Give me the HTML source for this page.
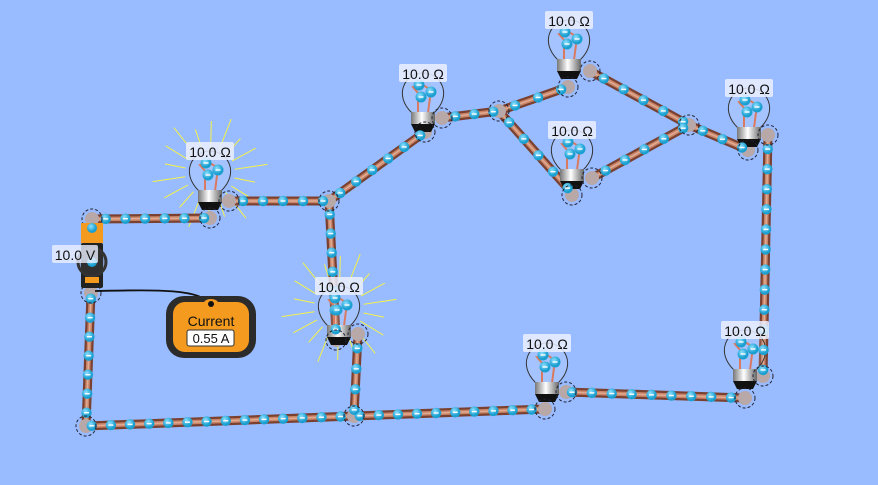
<!DOCTYPE html>
<html><head><meta charset="utf-8"><style>
html,body{margin:0;padding:0;background:#99bbff;width:878px;height:485px;overflow:hidden}
svg{display:block}
text{font-family:"Liberation Sans",sans-serif}
</style></head><body>
<svg id="s" width="878" height="485" xmlns="http://www.w3.org/2000/svg">
<defs>
<linearGradient id="base" x1="0" x2="1"><stop offset="0" stop-color="#777"/><stop offset="0.45" stop-color="#fff"/><stop offset="1" stop-color="#666"/></linearGradient>
<radialGradient id="el" cx="0.4" cy="0.35"><stop offset="0" stop-color="#8fe0ff"/><stop offset="1" stop-color="#1a9fd0"/></radialGradient>
</defs>
<g id="rays"></g>
<g id="wires"></g>
<g id="bulbs"></g>
<g id="els"></g>
<g id="top"></g>
</svg>
<script>
const NS="http://www.w3.org/2000/svg";
function el(p,t,a,txt){const e=document.createElementNS(NS,t);for(const k in a)e.setAttribute(k,a[k]);if(txt)e.textContent=txt;document.getElementById(p).appendChild(e);return e;}
const wires=[
[[92,219],[210,218]],[[229,201],[329,201]],[[329,201],[425,132]],[[442,118],[499,111]],
[[499,111],[568,87]],[[590,71],[689,125]],[[499,111],[572,193]],[[592,178],[689,125]],
[[689,125],[748,150]],[[768,135],[763,376]],[[745,398],[566,392]],[[545,409],[354,416]],
[[329,201],[336,335]],[[358,334],[354,416]],[[354,416],[86,426]],[[86,426],[91,293]]
];
wires.forEach(w=>{
 const d=`M${w[0][0]},${w[0][1]}L${w[1][0]},${w[1][1]}`;
 el("wires","path",{d,stroke:"#7a4030",'stroke-width':9,'stroke-linecap':'round'});
 el("wires","path",{d,stroke:"#c98468",'stroke-width':4.5});
 el("wires","path",{d,stroke:"#e0ab92",'stroke-width':1.5});
 const dx=w[1][0]-w[0][0],dy=w[1][1]-w[0][1],L=Math.hypot(dx,dy),n=Math.floor(L/19);
 for(let i=1;i<=n;i++){const t=(i-0.3)/n;const x=w[0][0]+dx*t,y=w[0][1]+dy*t;
  el("els","circle",{cx:x,cy:y,r:5.2,fill:"url(#el)"});
  el("els","rect",{x:x-2.5,y:y-0.7,width:5,height:1.4,fill:"#fff"});}
});
[[92,219],[210,218],[229,201],[329,201],[425,132],[442,118],[499,111],[568,87],[590,71],[689,125],[572,195],[592,178],[748,150],[768,135],[763,376],[745,398],[566,392],[545,409],[354,416],[336,340],[358,334],[86,426],[91,293]].forEach(p=>{
 el("wires","circle",{cx:p[0],cy:p[1],r:7,fill:"#b8a8a8"});
 el("top","circle",{cx:p[0],cy:p[1],r:10,fill:"none",stroke:"#223",'stroke-width':1,'stroke-dasharray':'3,2'});
});
const bulbs=[[210,173,1],[423,95,0],[569,42,0],[572,152,0],[749,110,0],[745,352,0],[547,365,0],[339,308,1]];
bulbs.forEach(b=>{const [x,y,g]=b;
 if(g){for(let i=0;i<18;i++){const a=i*Math.PI/9+0.2;el("rays","line",{x1:x+Math.cos(a)*25,y1:y+Math.sin(a)*25,x2:x+Math.cos(a)*(46+(i%3)*6),y2:y+Math.sin(a)*(46+(i%3)*6),stroke:"#f3f34a",'stroke-width':1});}}
 el("bulbs","path",{d:`M${x-11},${y+18} C${x-30},${y} ${x-18},${y-22} ${x},${y-22} C${x+18},${y-22} ${x+30},${y} ${x+11},${y+18}`,fill:"rgba(255,255,255,0.12)",stroke:"#333",'stroke-width':1});
 el("bulbs","path",{d:`M${x-5},${y+18}V${y-2}L${x-10},${y-8}L${x},${y-10}L${x+8},${y-5}L${x+5},${y+18}`,fill:"none",stroke:"#d97a60",'stroke-width':2});
 el("bulbs","rect",{x:x-12,y:y+17,width:24,height:12,fill:"url(#base)"});
 el("bulbs","path",{d:`M${x-12},${y+29}h24l-4,8h-16z`,fill:"#111"});
 [[x-4,y-10],[x-2,y+2],[x+8,y-3]].forEach(c=>{el("els","circle",{cx:c[0],cy:c[1],r:5.5,fill:"url(#el)"});el("els","rect",{x:c[0]-2.5,y:c[1]-0.7,width:5,height:1.4,fill:"#fff"});});
 el("top","rect",{x:x-24,y:y-31,width:48,height:18,rx:2,fill:"rgba(235,240,255,0.85)"});
 el("top","text",{x:x,y:y-16,'text-anchor':'middle','font-size':14,fill:"#111"},"10.0 Ω");
});
el("top","rect",{x:81,y:223,width:22,height:20,fill:"#f39a1f"});
el("top","rect",{x:81,y:243,width:22,height:45,rx:2,fill:"#222"});
el("top","circle",{cx:92,cy:262,r:14,fill:"rgba(80,80,80,0.3)",stroke:"#333",'stroke-width':3});
el("top","rect",{x:85,y:277,width:14,height:6,fill:"#f39a1f"});
el("top","circle",{cx:92,cy:228,r:5,fill:"url(#el)"});
el("top","circle",{cx:92,cy:262,r:5,fill:"url(#el)"});
el("top","rect",{x:52,y:245,width:46,height:18,rx:2,fill:"rgba(235,240,255,0.8)"});
el("top","text",{x:75,y:260,'text-anchor':'middle','font-size':14,fill:"#111"},"10.0 V");
el("top","path",{d:"M95,291 C150,290 200,288 210,304",fill:"none",stroke:"#111",'stroke-width':1.8});
el("top","rect",{x:166,y:296,width:90,height:62,rx:18,fill:"#2b2b2b"});
el("top","rect",{x:173,y:302,width:76,height:50,rx:12,fill:"#f39a1f"});
el("top","ellipse",{cx:211,cy:303,rx:7,ry:4,fill:"#f39a1f"});
el("top","circle",{cx:211,cy:304,r:3,fill:"#111"});
el("top","text",{x:211,y:326,'text-anchor':'middle','font-size':14,fill:"#111"},"Current");
el("top","rect",{x:187,y:330,width:47,height:16,rx:2,fill:"#fff",stroke:"#333"});
el("top","text",{x:211,y:343,'text-anchor':'middle','font-size':13,fill:"#111"},"0.55 A");
</script>
</body></html>
